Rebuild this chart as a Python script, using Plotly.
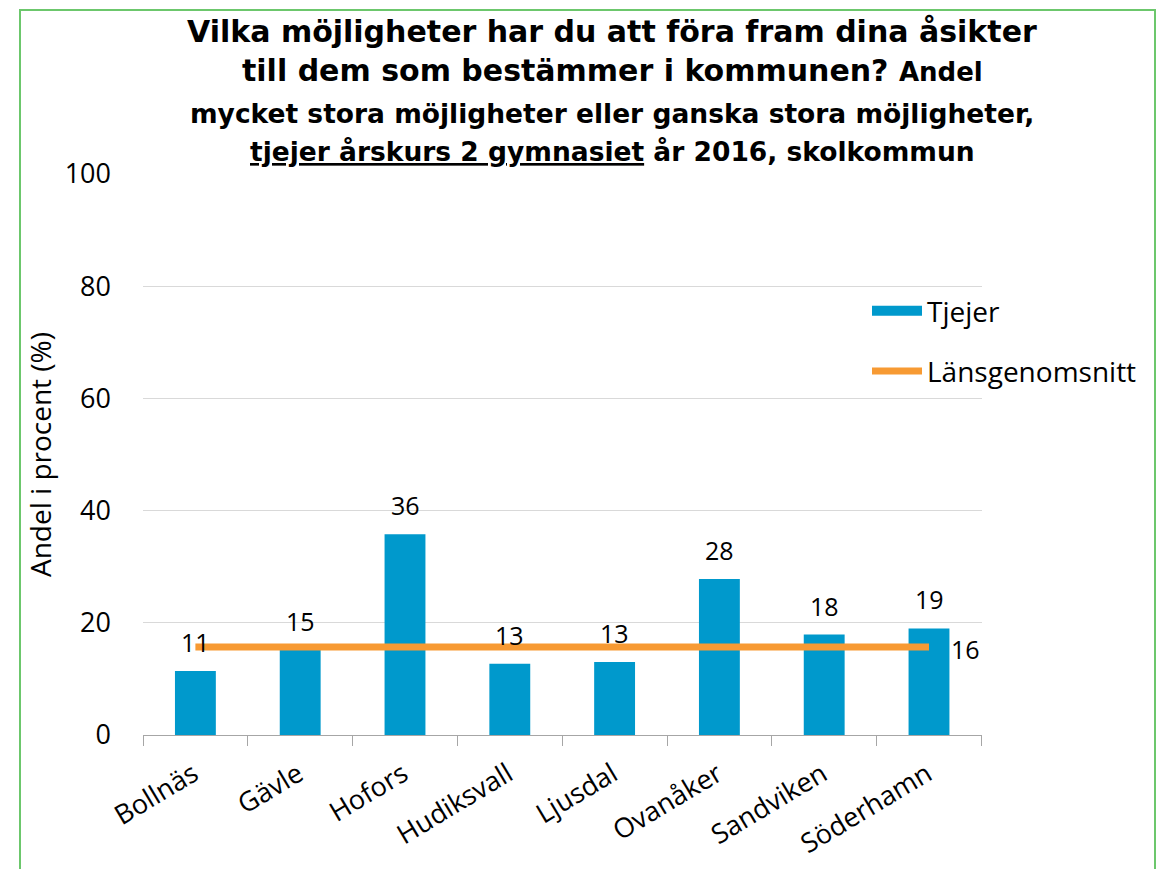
import plotly.graph_objects as go

# data
kommuner = ['Bollnäs', 'Gävle', 'Hofors', 'Hudiksvall', 'Ljusdal', 'Ovanåker', 'Sandviken', 'Söderhamn']
tjejer = [11.4, 15.2, 35.8, 12.7, 13.0, 27.8, 17.9, 19.0]
tjejer_labels = ['11', '15', '36', '13', '13', '28', '18', '19']
lansgenomsnitt = [15.7] * len(kommuner)
lans_label = '16'
y_ticks = [0, 20, 40, 60, 80, 100]

title_lines = [
    'Vilka möjligheter har du att föra fram dina åsikter',
    'till dem som bestämmer i kommunen? <span style="font-size:26px">Andel</span>',
    'mycket stora möjligheter eller ganska stora möjligheter,',
    '<u>tjejer årskurs 2 gymnasiet</u> år 2016, skolkommun',
]
title_sizes = [30, 30, 26.5, 26.5]
title_centers = [31, 70, 113, 151]  # pixel y of each line

BLUE = '#0099CC'
ORANGE = '#F79A33'
TEXT_FONT = 'Open Sans'
TITLE_FONT = 'DejaVu Sans'

# plot area geometry in pixels
W, H = 1165, 869
L, R, T, B = 143, 183, 174, 134
pw, ph = W - L - R, H - T - B


def px_x(x):
    return (x - L) / pw


def px_y(y):
    return (H - B - y) / ph


fig = go.Figure()

fig.add_trace(go.Bar(
    x=kommuner,
    y=tjejer,
    name='Tjejer',
    marker=dict(color=BLUE, line=dict(width=0)),
    showlegend=False,
))

# legend entry for the bars drawn as a thick block
fig.add_trace(go.Scatter(
    x=[None], y=[None],
    mode='lines',
    name='Tjejer',
    line=dict(color=BLUE, width=14),
    legendgroup='a',
))

fig.add_trace(go.Scatter(
    x=kommuner,
    y=lansgenomsnitt,
    mode='lines',
    name='Länsgenomsnitt',
    line=dict(color=ORANGE, width=7),
    legendgroup='b',
))

# value labels above the bars
for k, v, lab in zip(kommuner, tjejer, tjejer_labels):
    fig.add_annotation(
        x=k, y=v, text=lab, showarrow=False,
        yanchor='middle', yshift=29,
        font=dict(family=TEXT_FONT, size=25, color='black'),
    )

# label at the end of the county average line
fig.add_annotation(
    x=kommuner[-1], y=lansgenomsnitt[-1], text=lans_label, showarrow=False,
    xanchor='left', yanchor='middle', xshift=20, yshift=-2,
    font=dict(family=TEXT_FONT, size=25, color='black'),
)

# title, one annotation per line
for line, size, yc in zip(title_lines, title_sizes, title_centers):
    fig.add_annotation(
        text='<b>' + line + '</b>', showarrow=False,
        xref='paper', yref='paper', x=px_x(612), y=px_y(yc),
        xanchor='center', yanchor='middle',
        font=dict(family=TITLE_FONT, size=size, color='black'),
    )

fig.update_layout(
    width=W, height=H,
    margin=dict(l=L, r=R, t=T, b=B),
    paper_bgcolor='white',
    plot_bgcolor='white',
    font=dict(family=TEXT_FONT, size=25, color='black'),
    bargap=0.61,
    showlegend=True,
    legend=dict(
        x=px_x(867), y=px_y(286), xanchor='left', yanchor='top',
        font=dict(family=TEXT_FONT, size=28, color='black'),
        traceorder='grouped',
        tracegroupgap=21,
        itemwidth=50,
        bgcolor='rgba(0,0,0,0)',
    ),
    xaxis=dict(
        automargin=False,
        showline=True, linecolor='#A6A6A6', linewidth=1,
        ticks='outside', tickson='boundaries', ticklen=10, tickcolor='#A6A6A6',
        tickangle=-31,
        tickfont=dict(family=TEXT_FONT, size=27, color='black'),
        ticklabelstandoff=12, ticklabelshift=-2,
        showgrid=False,
    ),
    yaxis=dict(
        automargin=False,
        range=[0, 100],
        tickvals=y_ticks,
        showgrid=True, gridcolor='#D9D9D9', gridwidth=1,
        zeroline=False, showline=False,
        tickfont=dict(family=TEXT_FONT, size=27, color='black'),
        ticklabelstandoff=31,
        title=dict(text='Andel i procent (%)', font=dict(family=TEXT_FONT, size=28, color='black'), standoff=4),
    ),
    shapes=[dict(
        type='rect', xref='paper', yref='paper',
        x0=px_x(20), x1=px_x(1155), y0=px_y(880), y1=px_y(10),
        line=dict(color='#6CC76C', width=2), fillcolor='rgba(0,0,0,0)', layer='below',
    )],
)

fig.write_html('out.html', config={'displayModeBar': False},
               post_script="document.body.style.margin='0';")
